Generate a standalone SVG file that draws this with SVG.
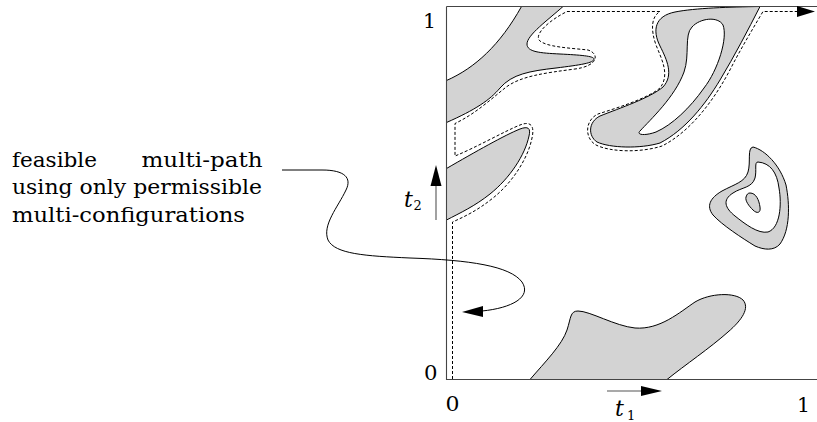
<svg xmlns="http://www.w3.org/2000/svg" width="817" height="422" viewBox="0 0 817 422">
<style>
.region{fill:#d3d3d3;stroke:#000;stroke-width:1;fill-rule:evenodd}
.frame{fill:none;stroke:#444;stroke-width:1.1}
.dash{fill:none;stroke:#000;stroke-width:1;stroke-dasharray:3,2}
.conn{fill:none;stroke:#000;stroke-width:1}
.ax{fill:none;stroke:#555;stroke-width:1.1}
.head{fill:#000;stroke:none}
.lbl{font-family:'DejaVu Serif',serif;font-size:21px}
.it{font-family:'DejaVu Serif',serif;font-style:italic;font-size:22px}
.sub{font-family:'DejaVu Serif',serif;font-size:13px}
</style>
<rect width="817" height="422" fill="#fff"/>
<g id="regions">
<g id="region-top-left"><path class="region" d="M 446.5,80.5 C 475,68 500,45 521.5,6.5 L 563,6.5 C 548,20 527,35 527,44 C 527,52 540,53 560,54 C 580,55 594,56 594,59 C 594,63 580,65 556,68 C 530,71 512,74 500,88 C 490,100 475,110 446.5,122.5 Z"/></g>
<g id="region-left"><path class="region" d="M 446.5,168.5 C 475,152 505,135 520,129 C 528,126 531,128 529,136 C 525,155 510,178 490,194 C 475,206 460,213 446.5,220 Z"/></g>
<g id="region-s"><path class="region" d="M 760,6.5 C 730,7 695,8 675,12 C 655,16 652,30 660,46 C 667,60 674,75 663,87 C 650,98 620,108 600,116 C 588,122 588,136 597,142 C 610,148 640,149 660,143 C 685,130 705,105 720,80 C 735,55 748,30 760,6.5 Z M 640,131 C 650,120 675,97 684,72 C 690,55 684,35 692,27 C 700,18 718,16 723,25 C 728,38 718,70 704,88 C 690,108 672,125 656,132 C 645,136 636,135 640,131 Z"/></g>
<g id="region-ring"><path class="region" d="M 753,147 C 765,150 780,165 786,185 C 790,205 790,230 780,244 C 774,251 764,250 755,246 C 742,238 722,225 713,215 C 706,206 710,198 722,191 C 735,184 745,182 748,172 C 751,162 747,148 753,147 Z M 758,162 C 770,163 777,172 779,188 C 782,205 780,228 768,232 C 758,234 745,224 735,216 C 725,208 722,200 733,193 C 742,187 752,188 755,178 C 757,170 754,162 758,162 Z"/>
<path class="region" d="M 750,193 C 756,193 759,200 760,207 C 761,213 757,214 753,210 C 749,206 745,201 746,197 C 747,194 748,193 750,193 Z"/></g>
<g id="region-bottom"><path class="region" d="M 530,379.5 C 545,362 562,345 567,330 C 571,318 570,311 578,311 C 590,311 615,326 635,328 C 660,330 680,312 695,302 C 710,293 735,292 743,300 C 750,308 742,320 728,332 C 710,348 685,365 667,379.5 Z"/></g>
</g>
<g id="frame">
<path class="frame" d="M 446.5,6.5 L 817,6.5 M 446.5,6.5 L 446.5,379.5 L 817,379.5"/>
</g>
<g id="connectors">
<path id="multipath" class="dash" d="M 452.5,379 L 452.5,222 C 466,216 478,210 493,198 C 513,182 528,158 532,138 C 535,125 530,121 520,125 C 505,131 475,148 455,156 L 455,123.5 C 475,114 490,100 505,88 C 520,76 545,73 575,69 C 598,66 600,54 588,50 C 570,48 545,47 539,40 C 535,33 550,20 567,11.5 L 660,11.5 C 652,16 650,28 656,45 C 662,60 670,75 660,88 C 648,98 620,107 598,114 C 585,120 584,138 596,145 C 610,152 640,153 662,146 C 690,132 715,100 733,64 C 742,47 752,30 763,11.5 L 798,11.5"/>
<polygon class="head" points="815,11.5 797,6 797,17"/>
<path id="callout" class="conn" d="M 282,170 L 322,170 C 345,170 352,178 346,190 C 338,207 322,225 328,240 C 335,254 365,256 410,258 C 470,260 510,266 522,282 C 532,297 512,308 482,311"/>
<polygon class="head" points="462,312 483,306 483,317"/>
<path class="ax" d="M 607,391 L 642,391"/>
<polygon class="head" points="662,391 641,386 641,396"/>
<path class="ax" d="M 436,220 L 436,184"/>
<polygon class="head" points="436,165 430.5,186 441.5,186"/>
</g>
<g id="labels" fill="#000">
<text class="lbl" x="12" y="166.5" textLength="85" lengthAdjust="spacingAndGlyphs">feasible</text>
<text class="lbl" x="141.5" y="166.5" textLength="121" lengthAdjust="spacingAndGlyphs">multi-path</text>
<text class="lbl" x="12" y="193.5" textLength="250" lengthAdjust="spacingAndGlyphs">using only permissible</text>
<text class="lbl" x="12" y="221.5" textLength="233" lengthAdjust="spacingAndGlyphs">multi-configurations</text>
<text class="lbl" x="423" y="27.5" textLength="13" lengthAdjust="spacingAndGlyphs">1</text>
<text class="lbl" x="424" y="379.5" textLength="13.5" lengthAdjust="spacingAndGlyphs">0</text>
<text class="lbl" x="445.5" y="411" textLength="14" lengthAdjust="spacingAndGlyphs">0</text>
<text class="lbl" x="797" y="412" textLength="13" lengthAdjust="spacingAndGlyphs">1</text>
<text class="it" x="404" y="206.5">t</text>
<text class="sub" x="413.5" y="210">2</text>
<text class="it" x="615" y="416">t</text>
<text class="sub" x="627" y="420">1</text>
</g>
</svg>
